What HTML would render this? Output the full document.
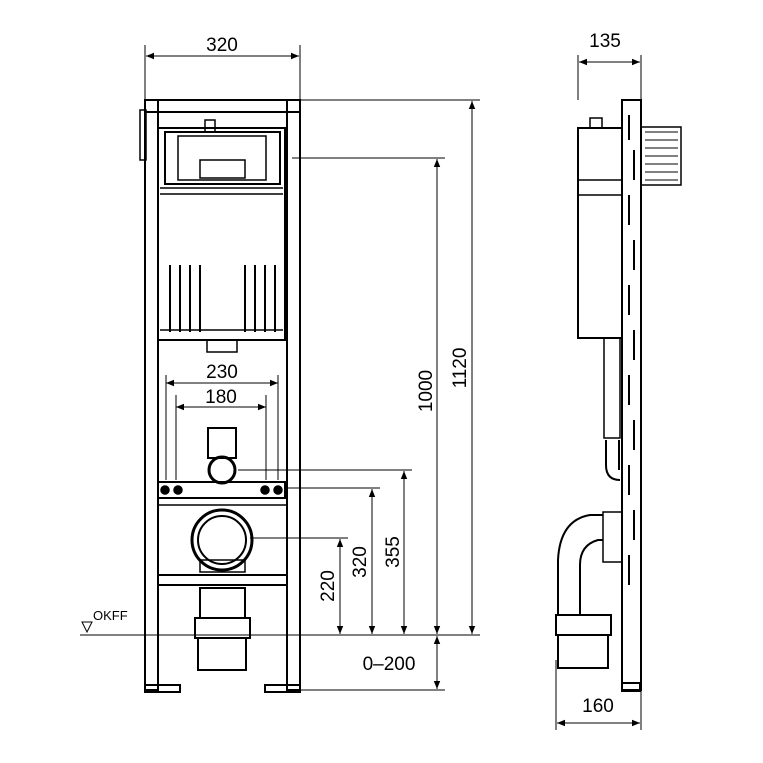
<!DOCTYPE html>
<html><head><style>html,body{margin:0;padding:0;background:#fff}svg{display:block}</style></head><body>
<svg width="763" height="763" viewBox="0 0 763 763" xmlns="http://www.w3.org/2000/svg" font-family="Liberation Sans, sans-serif" fill="none" stroke="#000" stroke-width="1.5">
<defs><marker id="a" viewBox="0 0 10 10" refX="10" refY="5" markerWidth="10" markerHeight="8" orient="auto-start-reverse"><path d="M0,1 L10,5 L0,9 Z" fill="#000" stroke="none"/></marker></defs>
<!-- top dim 320 -->
<line x1="145" y1="45" x2="145" y2="100" stroke-width="1"/><line x1="300" y1="45" x2="300" y2="100" stroke-width="1"/>
<line x1="146" y1="56" x2="299" y2="56" marker-start="url(#a)" marker-end="url(#a)" stroke-width="1"/>
<text x="222" y="51" font-size="19" fill="#000" stroke="none" text-anchor="middle">320</text>
<!-- frame -->
<rect x="145" y="100" width="13" height="590" stroke-width="2"/>
<rect x="287" y="100" width="13" height="590" stroke-width="2"/>
<rect x="145" y="100" width="155" height="12" stroke-width="2"/>
<rect x="140" y="110" width="6" height="50" stroke-width="1.5"/>
<!-- cistern -->
<rect x="158" y="128" width="127" height="212" stroke-width="2"/>
<rect x="165" y="132" width="115" height="52" stroke-width="2"/>
<rect x="178" y="136" width="88" height="44" stroke-width="1.5"/>
<rect x="200" y="160" width="45" height="18" stroke-width="1.5"/>
<rect x="205" y="120" width="10" height="12" stroke-width="1.5"/>
<line x1="160" y1="188" x2="283" y2="188"/><line x1="160" y1="194" x2="283" y2="194"/>
<g stroke-width="2"><line x1="170" y1="265" x2="170" y2="332"/><line x1="180" y1="265" x2="180" y2="332"/><line x1="190" y1="265" x2="190" y2="332"/><line x1="200" y1="265" x2="200" y2="332"/>
<line x1="245" y1="265" x2="245" y2="332"/><line x1="255" y1="265" x2="255" y2="332"/><line x1="265" y1="265" x2="265" y2="332"/><line x1="275" y1="265" x2="275" y2="332"/></g>
<line x1="160" y1="330" x2="283" y2="330"/>
<rect x="207" y="340" width="30" height="12" stroke-width="1.5"/>
<!-- 230/180 dims -->
<line x1="166" y1="383" x2="278" y2="383" marker-start="url(#a)" marker-end="url(#a)" stroke-width="1"/>
<text x="222" y="378" font-size="19" fill="#000" stroke="none" text-anchor="middle">230</text>
<line x1="176" y1="407" x2="266" y2="407" marker-start="url(#a)" marker-end="url(#a)" stroke-width="1"/>
<text x="221" y="403" font-size="19" fill="#000" stroke="none" text-anchor="middle">180</text>
<line x1="176" y1="395" x2="176" y2="480" stroke-width="1"/><line x1="266" y1="395" x2="266" y2="480" stroke-width="1"/>
<line x1="166" y1="375" x2="166" y2="480" stroke-width="1"/><line x1="278" y1="375" x2="278" y2="480" stroke-width="1"/>
<!-- drain pipe -->
<rect x="208" y="428" width="28" height="30" stroke-width="2"/>
<circle cx="222" cy="470" r="13" stroke-width="3"/>
<rect x="158" y="482" width="127" height="16" stroke-width="2"/>
<circle cx="165" cy="490" r="4" fill="#000"/><circle cx="178" cy="490" r="4" fill="#000"/><circle cx="265" cy="490" r="4" fill="#000"/><circle cx="278" cy="490" r="4" fill="#000"/>
<!-- bowl connector -->
<line x1="158" y1="505" x2="287" y2="505"/>
<circle cx="222" cy="540" r="30" stroke-width="3"/><circle cx="222" cy="540" r="24" stroke-width="2"/>
<rect x="200" y="560" width="45" height="12" stroke-width="1.5"/>
<rect x="158" y="575" width="129" height="10" stroke-width="2"/>
<!-- lower pipe -->
<rect x="200" y="588" width="45" height="30" stroke-width="2"/>
<rect x="195" y="618" width="55" height="20" stroke-width="2"/>
<rect x="198" y="638" width="48" height="32" stroke-width="2"/>
<!-- feet -->
<rect x="145" y="685" width="35" height="7" stroke-width="2"/><rect x="265" y="685" width="35" height="7" stroke-width="2"/>
<!-- extension lines -->
<g stroke-width="1">
<line x1="300" y1="100" x2="480" y2="100"/><line x1="292" y1="158" x2="445" y2="158"/>
<line x1="238" y1="470" x2="412" y2="470"/><line x1="285" y1="488" x2="380" y2="488"/>
<line x1="250" y1="538" x2="348" y2="538"/><line x1="300" y1="690" x2="445" y2="690"/>
<line x1="80" y1="635" x2="480" y2="635"/>
<line x1="472" y1="101" x2="472" y2="634" marker-start="url(#a)" marker-end="url(#a)"/>
<line x1="437" y1="159" x2="437" y2="634" marker-start="url(#a)" marker-end="url(#a)"/>
<line x1="404" y1="471" x2="404" y2="634" marker-start="url(#a)" marker-end="url(#a)"/>
<line x1="372" y1="489" x2="372" y2="634" marker-start="url(#a)" marker-end="url(#a)"/>
<line x1="340" y1="539" x2="340" y2="634" marker-start="url(#a)" marker-end="url(#a)"/>
<line x1="437" y1="636" x2="437" y2="689" marker-start="url(#a)" marker-end="url(#a)"/>
</g>
<g font-size="19" fill="#000" stroke="none" text-anchor="middle">
<text transform="translate(466,368) rotate(-90)">1120</text>
<text transform="translate(432,391) rotate(-90)">1000</text>
<text transform="translate(399,552) rotate(-90)">355</text>
<text transform="translate(366,562) rotate(-90)">320</text>
<text transform="translate(334,586) rotate(-90)">220</text>
<text x="389" y="670">0–200</text>
<text x="605" y="47">135</text>
<text x="598" y="712">160</text>
</g>
<text x="93" y="620" font-size="13" fill="#000" stroke="none">OKFF</text>
<path d="M82,622 L92,622 L87,632 Z" stroke-width="1"/>
<!-- side view -->
<g stroke-width="1">
<line x1="578" y1="55" x2="578" y2="100"/><line x1="641" y1="55" x2="641" y2="100"/>
<line x1="579" y1="62" x2="640" y2="62" marker-start="url(#a)" marker-end="url(#a)"/>
<line x1="556" y1="660" x2="556" y2="730"/><line x1="641" y1="690" x2="641" y2="730"/>
<line x1="557" y1="723" x2="640" y2="723" marker-start="url(#a)" marker-end="url(#a)"/>
</g>
<rect x="622" y="100" width="19" height="590" stroke-width="2"/>
<g stroke-width="2"><line x1="629" y1="115" x2="629" y2="140"/><line x1="634" y1="150" x2="634" y2="180"/><line x1="629" y1="195" x2="629" y2="225"/><line x1="634" y1="240" x2="634" y2="270"/><line x1="629" y1="285" x2="629" y2="315"/><line x1="634" y1="330" x2="634" y2="360"/><line x1="629" y1="375" x2="629" y2="405"/><line x1="634" y1="420" x2="634" y2="450"/><line x1="629" y1="465" x2="629" y2="495"/><line x1="634" y1="510" x2="634" y2="540"/><line x1="629" y1="555" x2="629" y2="585"/></g>
<rect x="641" y="127" width="40" height="58" stroke-width="1.5"/>
<g stroke-width="1"><line x1="645" y1="132" x2="678" y2="132"/><line x1="645" y1="140" x2="678" y2="140"/><line x1="645" y1="148" x2="678" y2="148"/><line x1="645" y1="156" x2="678" y2="156"/><line x1="645" y1="164" x2="678" y2="164"/><line x1="645" y1="172" x2="678" y2="172"/><line x1="645" y1="180" x2="678" y2="180"/></g>
<rect x="578" y="128" width="44" height="210" stroke-width="2"/>
<rect x="590" y="118" width="12" height="10" stroke-width="1.5"/>
<line x1="578" y1="180" x2="622" y2="180"/><line x1="578" y1="195" x2="622" y2="195"/>
<rect x="604" y="338" width="16" height="100" stroke-width="1.5"/>
<path d="M606,440 L606,465 Q606,480 620,480 M619,440 L619,470" stroke-width="2"/>
<path d="M603,515 L590,515 Q560,520 558,560 L558,615 M603,540 L598,540 Q580,545 580,565 L580,615" stroke-width="2"/>
<rect x="603" y="512" width="19" height="50" stroke-width="1.5"/>
<rect x="556" y="615" width="55" height="20" stroke-width="2"/>
<rect x="558" y="635" width="50" height="33" stroke-width="2"/>
<rect x="622" y="683" width="18" height="8" stroke-width="2"/>
</svg>
</body></html>
